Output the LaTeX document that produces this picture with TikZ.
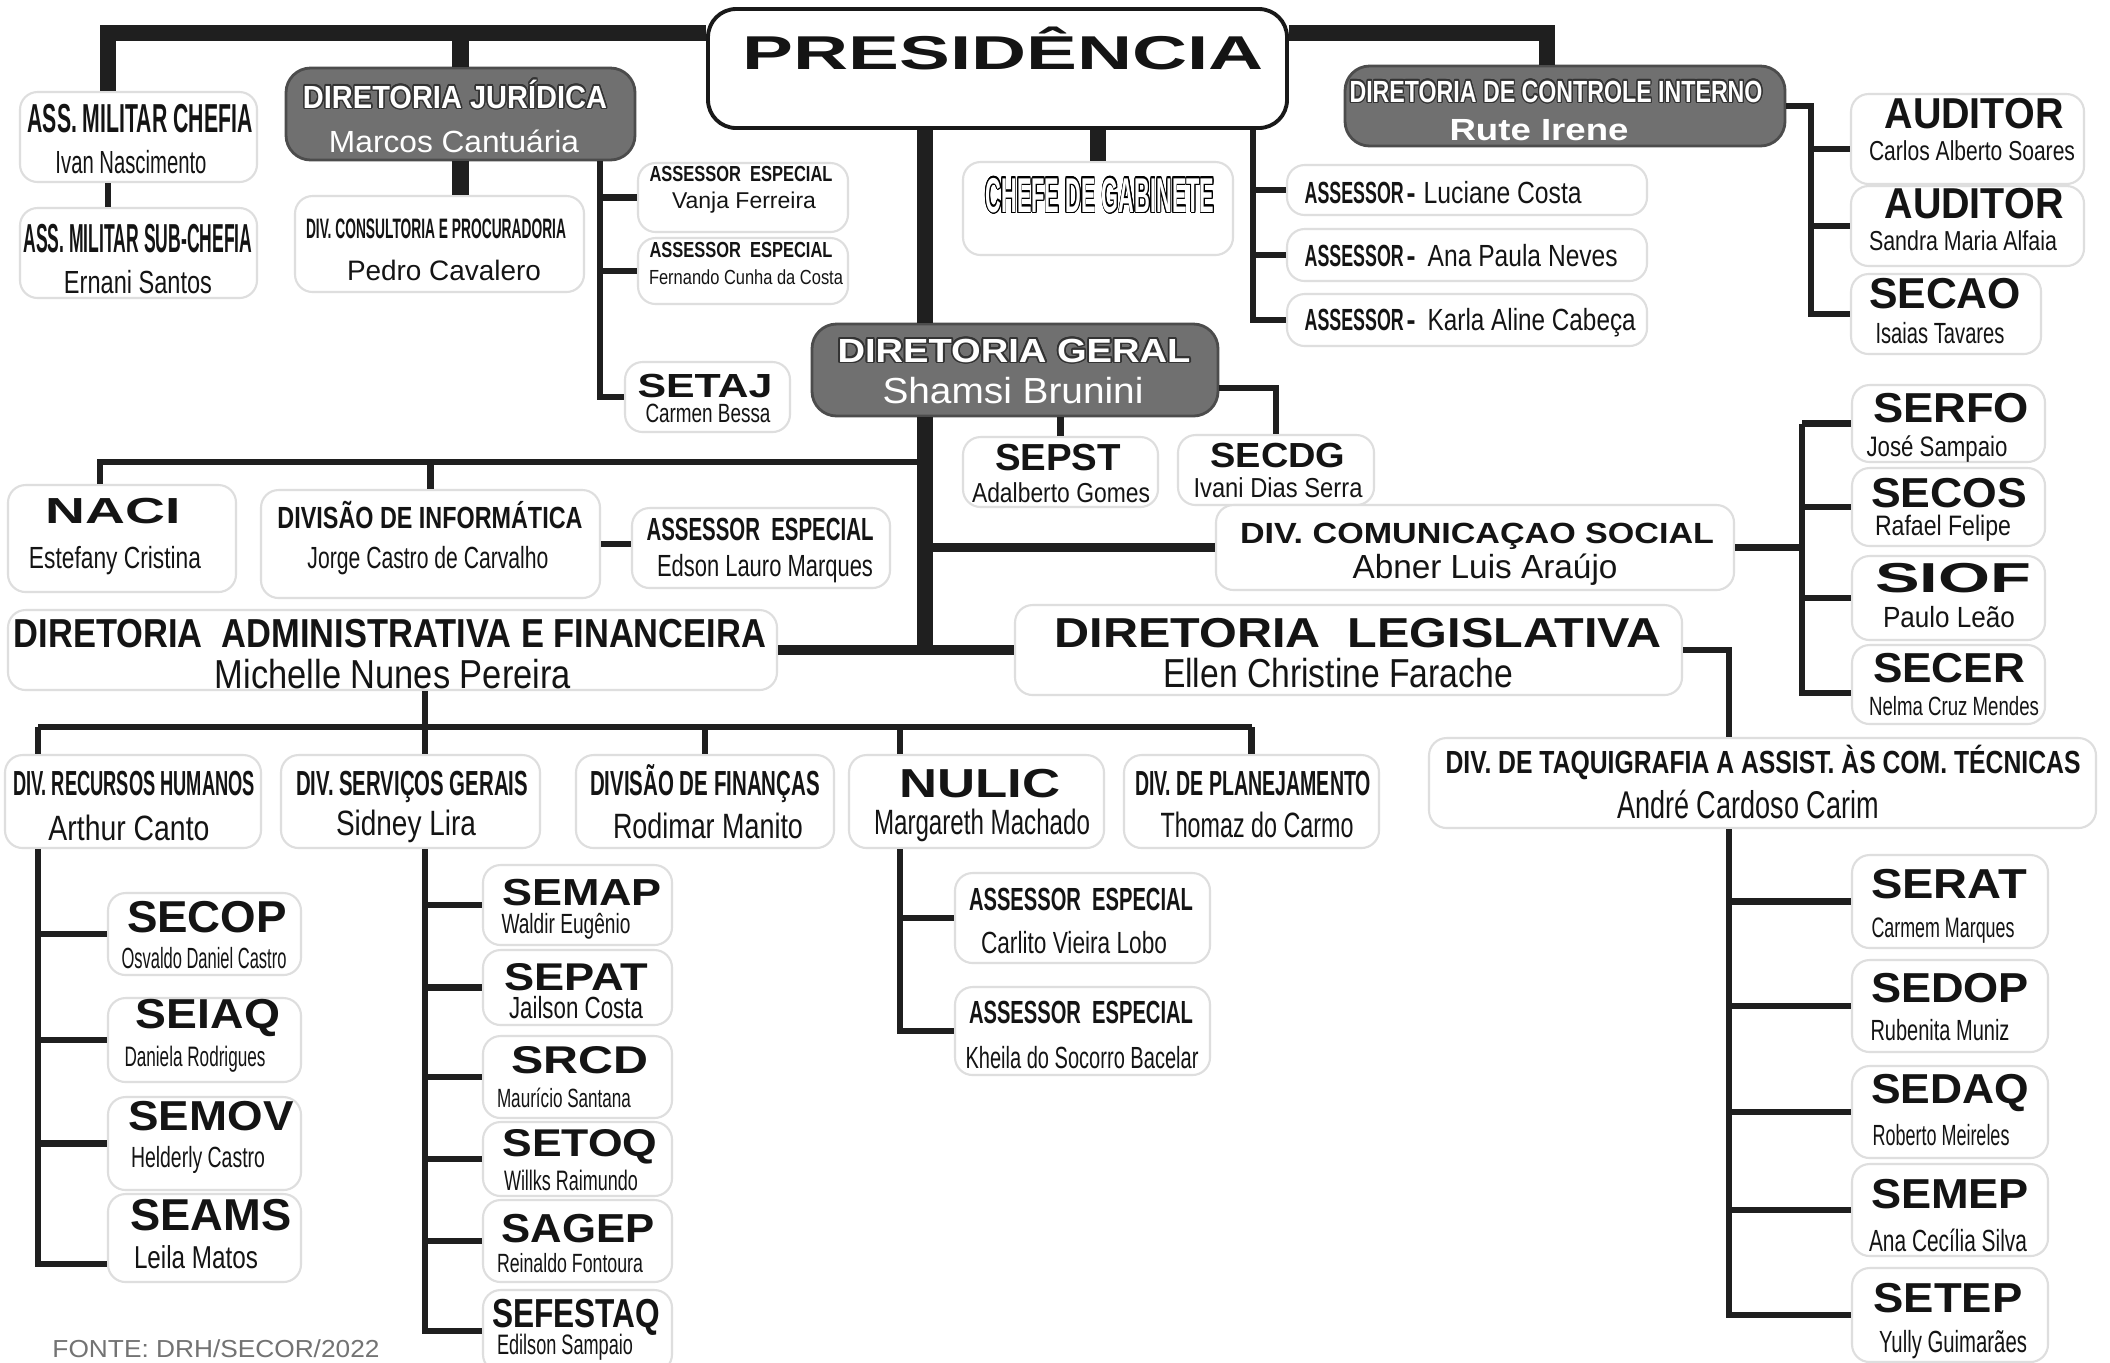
\documentclass[tikz,border=0pt]{standalone}
\usepackage{fontspec}
\setmainfont{Liberation Sans}
\usepackage{graphicx}
\usepackage{xcolor}
\usepackage{contour}
\contourlength{0.45pt}

\newlength{\pxu}
\setlength{\pxu}{0.01cm}
% \hd = bold line, \nm = name line: size (pt), width (px), text
\newcommand{\hd}[3]{\resizebox{#2\pxu}{\height}{\fontsize{#1}{#1}\selectfont\bfseries #3}}
\newcommand{\nm}[3]{\resizebox{#2\pxu}{\height}{\fontsize{#1}{#1}\selectfont #3}}
\newcommand{\wt}[1]{\contour{black!80}{\textcolor{white}{#1}}}
% box from corner (x1,y1) to corner (x2,y2)
\newcommand{\bx}[6][box]{\node[#1, minimum width={(#5-#3)*0.01cm}, minimum height={(#6-#4)*0.01cm}] (#2) at ({(#3+#5)/2},{(#4+#6)/2}) {};}

\tikzset{
  box/.style={draw=black!13, line width=0.6pt, rounded corners=5pt, fill=white, inner sep=0pt},
  dbox/.style={draw=black!70, line width=0.8pt, rounded corners=7pt, fill=black!56, inner sep=0pt},
  pbox/.style={draw=black!90, line width=1.1pt, rounded corners=8pt, fill=white, inner sep=0pt},
  tx/.style={anchor=base, inner sep=0pt, text=black!92},
  bus/.style={draw=black!88, line width=4.8pt},
  mid/.style={draw=black!88, line width=2.8pt},
  lnk/.style={draw=black!88, line width=1.8pt},
}

\begin{document}
\begin{tikzpicture}[x=0.01cm, y=-0.01cm]
\fill[white] (0,0) rectangle (2110,1362);
\useasboundingbox (0,0) rectangle (2110,1362);

% boxes
\bx[pbox]{pres}{708}{9}{1287}{128}
\bx[dbox]{dj}{286}{68}{635}{160}
\bx[dbox]{dci}{1345}{66}{1785}{146}
\bx[dbox]{dg}{812}{324}{1218}{416}
\bx{mila}{20}{92}{257}{182}
\bx{milb}{20}{208}{257}{298}
\bx{cons}{295}{196}{584}{292}
\bx{aea}{638}{163}{848}{232}
\bx{aeb}{638}{238}{848}{304}
\bx{setaj}{625}{362}{790}{432}
\bx{chefe}{963}{162}{1233}{255}
\bx{asra}{1287}{165}{1647}{215}
\bx{asrb}{1287}{229}{1647}{281}
\bx{asrc}{1287}{294}{1647}{346}
\bx{auda}{1851}{94}{2084}{184}
\bx{audb}{1851}{186}{2084}{266}
\bx{secao}{1851}{274}{2041}{354}
\bx{sepst}{963}{437}{1158}{507}
\bx{secdg}{1178}{435}{1374}{505}
\bx{naci}{8}{485}{236}{592}
\bx{info}{261}{490}{600}{598}
\bx{aec}{632}{508}{890}{588}
\bx{dcs}{1216}{505}{1734}{590}
\bx{serfo}{1852}{385}{2045}{462}
\bx{secos}{1852}{468}{2045}{546}
\bx{siof}{1852}{556}{2045}{640}
\bx{secer}{1852}{645}{2045}{724}
\bx{daf}{8}{610}{777}{690}
\bx{dl}{1015}{605}{1682}{695}
\bx{taqui}{1429}{738}{2096}{828}
\bx{rh}{5}{755}{261}{848}
\bx{sg}{281}{755}{540}{848}
\bx{fin}{576}{755}{834}{848}
\bx{nulic}{849}{755}{1104}{848}
\bx{plan}{1124}{755}{1379}{848}
\bx{aed}{955}{873}{1210}{963}
\bx{aee}{955}{987}{1210}{1075}
\bx{secop}{108}{893}{301}{975}
\bx{seiaq}{108}{998}{301}{1082}
\bx{semov}{108}{1097}{301}{1190}
\bx{seams}{108}{1194}{301}{1282}
\bx{semap}{483}{865}{672}{945}
\bx{sepat}{483}{950}{672}{1025}
\bx{srcd}{483}{1036}{672}{1118}
\bx{setoq}{483}{1122}{672}{1196}
\bx{sagep}{483}{1200}{672}{1282}
\bx{sefes}{483}{1290}{672}{1372}
\bx{serat}{1852}{855}{2048}{948}
\bx{sedop}{1852}{960}{2048}{1052}
\bx{sedaq}{1852}{1066}{2048}{1158}
\bx{semep}{1852}{1164}{2048}{1256}
\bx{setep}{1852}{1268}{2048}{1362}

% bus ends and corners
\coordinate (tl) at (108,33);
\coordinate (tr) at (1547,33);
\coordinate (trk) at (925,650);
\coordinate (ja) at (600,0);
\coordinate (pa) at (1253,0);
\coordinate (ca) at (1811,0);
\coordinate (nb) at (100,462);
\coordinate (csb) at (1802,0);
\coordinate (tqx) at (1729,0);
\coordinate (rx) at (38,727);
\coordinate (ab) at (425,727);
\coordinate (nx) at (900,727);

% top level
\draw[bus] (tl |- mila.north) -- (tl) -- (tl -| pres.west);
\draw[bus] (tr -| pres.east) -- (tr) -- (tr |- dci.north);
\draw[lnk] (tl |- mila.south) -- (tl |- milb.north);
\draw[bus] (dj.north |- tl) -- (dj.north);
\draw[bus] (dj.south) -- (dj.south |- cons.north);
\draw[lnk] (ja |- dj.south) |- (setaj.west);
\draw[lnk] (ja |- aea.west) -- (aea.west);
\draw[lnk] (ja |- aeb.west) -- (aeb.west);
\draw[bus] (chefe.north |- pres.south) -- (chefe.north);
\draw[lnk] (pa |- pres.south) |- (asrc.west);
\draw[lnk] (pa |- asra.west) -- (asra.west);
\draw[lnk] (pa |- asrb.west) -- (asrb.west);
\draw[lnk] (dci.east) -| (ca |- secao.west) -- (secao.west);
\draw[lnk] (ca |- auda.185) -- (auda.185);
\draw[lnk] (ca |- audb.west) -- (audb.west);

% trunk
\draw[bus] (trk |- pres.south) -- (trk |- dg.north);
\draw[bus] (trk |- dg.south) -- (trk);
\draw[lnk] (sepst.north |- dg.south) -- (sepst.north);
\draw[lnk] (dg.east) ++(0,18) -| (secdg.north);
\draw[lnk] (trk |- nb) -- (nb) -- (nb |- naci.north);
\draw[lnk] (nb -| info.north) -- (info.north);
\draw[lnk] (info.east) -- (info.east -| aec.west);
\draw[mid] (trk |- dcs.west) -- (dcs.west);
\draw[lnk] (dcs.east) -- (csb |- dcs.east);
\draw[lnk] (csb |- serfo.west) -- (serfo.west);
\draw[lnk] (csb |- serfo.west) |- (secer.185);
\draw[lnk] (csb |- secos.west) -- (secos.west);
\draw[lnk] (csb |- siof.west) -- (siof.west);
\draw[mid] (daf.east) -- (dl.west);

% legislativa
\draw[lnk] (dl.east) -| (tqx |- taqui.north);
\draw[lnk] (tqx |- taqui.south) |- (setep.west);
\draw[lnk] (tqx |- serat.west) -- (serat.west);
\draw[lnk] (tqx |- sedop.west) -- (sedop.west);
\draw[lnk] (tqx |- sedaq.west) -- (sedaq.west);
\draw[lnk] (tqx |- semep.west) -- (semep.west);

% administrativa
\draw[lnk] (ab |- daf.south) -- (ab);
\draw[lnk] (rx) -- (plan.north |- rx);
\draw[lnk] (rx) -- (rx |- rh.north);
\draw[lnk] (ab) -- (ab |- sg.north);
\draw[lnk] (fin.north |- rx) -- (fin.north);
\draw[lnk] (nx) -- (nx |- nulic.north);
\draw[lnk] (plan.north |- rx) -- (plan.north);
\draw[lnk] (rx |- rh.south) |- (seams.195);
\draw[lnk] (rx |- secop.west) -- (secop.west);
\draw[lnk] (rx |- seiaq.west) -- (seiaq.west);
\draw[lnk] (rx |- semov.west) -- (semov.west);
\draw[lnk] (ab |- sg.south) |- (sefes.west);
\draw[lnk] (ab |- semap.west) -- (semap.west);
\draw[lnk] (ab |- sepat.west) -- (sepat.west);
\draw[lnk] (ab |- srcd.west) -- (srcd.west);
\draw[lnk] (ab |- setoq.west) -- (setoq.west);
\draw[lnk] (ab |- sagep.west) -- (sagep.west);
\draw[lnk] (nx |- nulic.south) |- (aee.west);
\draw[lnk] (nx |- aed.west) -- (aed.west);

% texts
\node[tx] (prest) at (1003,69) {\hd{13.5}{521}{PRESIDÊNCIA}};
\node[tx] (milat) at (140,132) {\hd{11.5}{225}{ASS. MILITAR CHEFIA}};
\node[tx] (milan) at (131,173) {\nm{9.1}{151}{Ivan Nascimento}};
\node[tx] (milbt) at (138,252) {\hd{11.5}{229}{ASS. MILITAR SUB-CHEFIA}};
\node[tx] (milbn) at (138,293) {\nm{9.1}{148}{Ernani Santos}};
\node[tx] (djt) at (455,108) {\hd{9.1}{304}{\wt{DIRETORIA JURÍDICA}}};
\node[tx] (djn) at (454,152) {\nm{8.7}{250}{\textcolor{white}{Marcos Cantuária}}};
\node[tx] (const) at (436,238) {\hd{8}{260}{DIV. CONSULTORIA E PROCURADORIA}};
\node[tx] (consn) at (444,280) {\nm{8}{194}{Pedro Cavalero}};
\node[tx] (aeat) at (741,181) {\hd{6.2}{183}{ASSESSOR\ \ ESPECIAL}};
\node[tx] (aean) at (744,208) {\nm{6.5}{144}{Vanja Ferreira}};
\node[tx] (aebt) at (741,257) {\hd{6.2}{183}{ASSESSOR\ \ ESPECIAL}};
\node[tx] (aebn) at (746,284) {\nm{5.8}{194}{Fernando Cunha da Costa}};
\node[tx] (setajt) at (705,397) {\hd{9.5}{135}{SETAJ}};
\node[tx] (setajn) at (708,422) {\nm{7.5}{125}{Carmen Bessa}};
\node[tx] (chefet) at (1100,212) {\hd{13.9}{229}{\contour{black}{\textcolor{white}{CHEFE DE GABINETE}}}};
\node[tx, anchor=base west] (asrat) at (1304,203) {\hd{8.7}{99}{ASSESSOR}\hspace{3\pxu}\hd{8.7}{9}{-}\hspace{8\pxu}\nm{8.7}{158}{Luciane Costa}};
\node[tx, anchor=base west] (asrbt) at (1304,266) {\hd{8.7}{99}{ASSESSOR}\hspace{3\pxu}\hd{8.7}{9}{-}\hspace{12\pxu}\nm{8.7}{190}{Ana Paula Neves}};
\node[tx, anchor=base west] (asrct) at (1304,330) {\hd{8.7}{99}{ASSESSOR}\hspace{3\pxu}\hd{8.7}{9}{-}\hspace{12\pxu}\nm{8.7}{208}{Karla Aline Cabeça}};
\node[tx] (dcit) at (1556,102) {\hd{8.7}{413}{\wt{DIRETORIA DE CONTROLE INTERNO}}};
\node[tx] (dcin) at (1539,140) {\hd{8.7}{179}{\textcolor{white}{Rute Irene}}};
\node[tx] (audat) at (1974,128) {\hd{12.3}{179}{AUDITOR}};
\node[tx] (audan) at (1972,160) {\nm{7.8}{206}{Carlos Alberto Soares}};
\node[tx] (audbt) at (1974,218) {\hd{12.3}{179}{AUDITOR}};
\node[tx] (audbn) at (1963,250) {\nm{7.8}{188}{Sandra Maria Alfaia}};
\node[tx] (secaot) at (1945,308) {\hd{12.3}{152}{SECAO}};
\node[tx] (secaon) at (1940,343) {\nm{8.3}{129}{Isaias Tavares}};
\node[tx] (dgt) at (1014,362) {\hd{9.5}{353}{\wt{DIRETORIA GERAL}}};
\node[tx] (dgn) at (1013,403) {\nm{10.3}{261}{\textcolor{white}{Shamsi Brunini}}};
\node[tx] (sepstt) at (1058,470) {\hd{10.7}{126}{SEPST}};
\node[tx] (sepstn) at (1061,502) {\nm{7.8}{178}{Adalberto Gomes}};
\node[tx] (secdgt) at (1278,467) {\hd{9.9}{135}{SECDG}};
\node[tx] (secdgn) at (1278,497) {\nm{7.8}{169}{Ivani Dias Serra}};
\node[tx] (nacit) at (113,523) {\hd{10.3}{135}{NACI}};
\node[tx] (nacin) at (115,568) {\nm{8.7}{172}{Estefany Cristina}};
\node[tx] (infot) at (430,528) {\hd{8.7}{305}{DIVISÃO DE INFORMÁTICA}};
\node[tx] (infon) at (428,568) {\nm{8.7}{241}{Jorge Castro de Carvalho}};
\node[tx] (aect) at (760,540) {\hd{9.1}{227}{ASSESSOR\ \ ESPECIAL}};
\node[tx] (aecn) at (765,576) {\nm{8.7}{216}{Edson Lauro Marques}};
\node[tx] (dcst) at (1477,543) {\hd{8.3}{474}{DIV. COMUNICAÇAO SOCIAL}};
\node[tx] (dcsn) at (1485,578) {\nm{9.5}{265}{Abner Luis Araújo}};
\node[tx] (serfot) at (1951,422) {\hd{11.9}{156}{SERFO}};
\node[tx] (serfon) at (1937,456) {\nm{8}{141}{José Sampaio}};
\node[tx] (secost) at (1949,507) {\hd{11.9}{156}{SECOS}};
\node[tx] (secosn) at (1943,535) {\nm{8}{136}{Rafael Felipe}};
\node[tx] (sioft) at (1953,592) {\hd{11.9}{156}{SIOF}};
\node[tx] (siofn) at (1949,627) {\nm{8.3}{132}{Paulo Leão}};
\node[tx] (secert) at (1949,682) {\hd{11.9}{152}{SECER}};
\node[tx] (secern) at (1954,715) {\nm{7.5}{170}{Nelma Cruz Mendes}};
\node[tx] (daft) at (390,647) {\hd{11.5}{752}{DIRETORIA\ \ ADMINISTRATIVA E FINANCEIRA}};
\node[tx] (dafn) at (393,688) {\nm{11.5}{356}{Michelle Nunes Pereira}};
\node[tx] (dlt) at (1358,647) {\hd{11.9}{607}{DIRETORIA\ \ LEGISLATIVA}};
\node[tx] (dln) at (1338,687) {\nm{11.5}{350}{Ellen Christine Farache}};
\node[tx] (taquit) at (1763,773) {\hd{9.1}{635}{DIV. DE TAQUIGRAFIA A ASSIST. ÀS COM. TÉCNICAS}};
\node[tx] (taquin) at (1748,818) {\nm{11}{262}{André Cardoso Carim}};
\node[tx] (rht) at (134,795) {\hd{9.9}{242}{DIV. RECURSOS HUMANOS}};
\node[tx] (rhn) at (129,840) {\nm{10}{161}{Arthur Canto}};
\node[tx] (sgt) at (412,795) {\hd{9.9}{232}{DIV. SERVIÇOS GERAIS}};
\node[tx] (sgn) at (406,835) {\nm{10}{140}{Sidney Lira}};
\node[tx] (fint) at (705,795) {\hd{9.9}{230}{DIVISÃO DE FINANÇAS}};
\node[tx] (finn) at (708,838) {\nm{10}{190}{Rodimar Manito}};
\node[tx] (nulict) at (980,797) {\hd{11.5}{161}{NULIC}};
\node[tx] (nulicn) at (982,834) {\nm{10}{216}{Margareth Machado}};
\node[tx] (plant) at (1253,795) {\hd{9.9}{236}{DIV. DE PLANEJAMENTO}};
\node[tx] (plann) at (1257,837) {\nm{10}{193}{Thomaz do Carmo}};
\node[tx] (aedt) at (1081,910) {\hd{9.1}{224}{ASSESSOR\ \ ESPECIAL}};
\node[tx] (aedn) at (1074,953) {\nm{8.7}{186}{Carlito Vieira Lobo}};
\node[tx] (aeet) at (1081,1023) {\hd{9.1}{224}{ASSESSOR\ \ ESPECIAL}};
\node[tx] (aeen) at (1082,1068) {\nm{8.7}{233}{Kheila do Socorro Bacelar}};
\node[tx] (secopt) at (207,932) {\hd{12.7}{160}{SECOP}};
\node[tx] (secopn) at (204,968) {\nm{8.3}{165}{Osvaldo Daniel Castro}};
\node[tx] (seiaqt) at (208,1028) {\hd{11.9}{144}{SEIAQ}};
\node[tx] (seiaqn) at (195,1066) {\nm{8}{141}{Daniela Rodrigues}};
\node[tx] (semovt) at (211,1130) {\hd{11.9}{165}{SEMOV}};
\node[tx] (semovn) at (198,1167) {\nm{8.3}{134}{Helderly Castro}};
\node[tx] (seamst) at (211,1230) {\hd{12.7}{161}{SEAMS}};
\node[tx] (seamsn) at (196,1268) {\nm{9}{124}{Leila Matos}};
\node[tx] (semapt) at (582,905) {\hd{10.7}{160}{SEMAP}};
\node[tx] (semapn) at (566,933) {\nm{7.9}{129}{Waldir Eugênio}};
\node[tx] (sepatt) at (576,990) {\hd{11}{144}{SEPAT}};
\node[tx] (sepatn) at (576,1018) {\nm{8.7}{134}{Jailson Costa}};
\node[tx] (srcdt) at (580,1073) {\hd{11}{137}{SRCD}};
\node[tx] (srcdn) at (564,1107) {\nm{7.5}{134}{Maurício Santana}};
\node[tx] (setoqt) at (580,1156) {\hd{11}{155}{SETOQ}};
\node[tx] (setoqn) at (571,1190) {\nm{8}{134}{Willks Raimundo}};
\node[tx] (sagept) at (578,1242) {\hd{11.5}{153}{SAGEP}};
\node[tx] (sagepn) at (570,1272) {\nm{7.5}{146}{Reinaldo Fontoura}};
\node[tx] (sefest) at (576,1327) {\hd{11.5}{168}{SEFESTAQ}};
\node[tx] (sefesn) at (565,1354) {\nm{8}{136}{Edilson Sampaio}};
\node[tx] (seratt) at (1949,898) {\hd{11.9}{156}{SERAT}};
\node[tx] (seratn) at (1943,937) {\nm{8}{143}{Carmem Marques}};
\node[tx] (sedopt) at (1950,1002) {\hd{11.9}{158}{SEDOP}};
\node[tx] (sedopn) at (1940,1040) {\nm{8.3}{139}{Rubenita Muniz}};
\node[tx] (sedaqt) at (1950,1103) {\hd{11.9}{158}{SEDAQ}};
\node[tx] (sedaqn) at (1941,1145) {\nm{8.3}{137}{Roberto Meireles}};
\node[tx] (semept) at (1950,1208) {\hd{11.9}{158}{SEMEP}};
\node[tx] (semepn) at (1948,1251) {\nm{8.7}{158}{Ana Cecília Silva}};
\node[tx] (setept) at (1948,1312) {\hd{11.9}{149}{SETEP}};
\node[tx] (setepn) at (1953,1352) {\nm{8.7}{148}{Yully Guimarães}};
\node[tx, text=black!55] (fonte) at (216,1357) {\nm{7}{327}{FONTE: DRH/SECOR/2022}};
\end{tikzpicture}
\end{document}
